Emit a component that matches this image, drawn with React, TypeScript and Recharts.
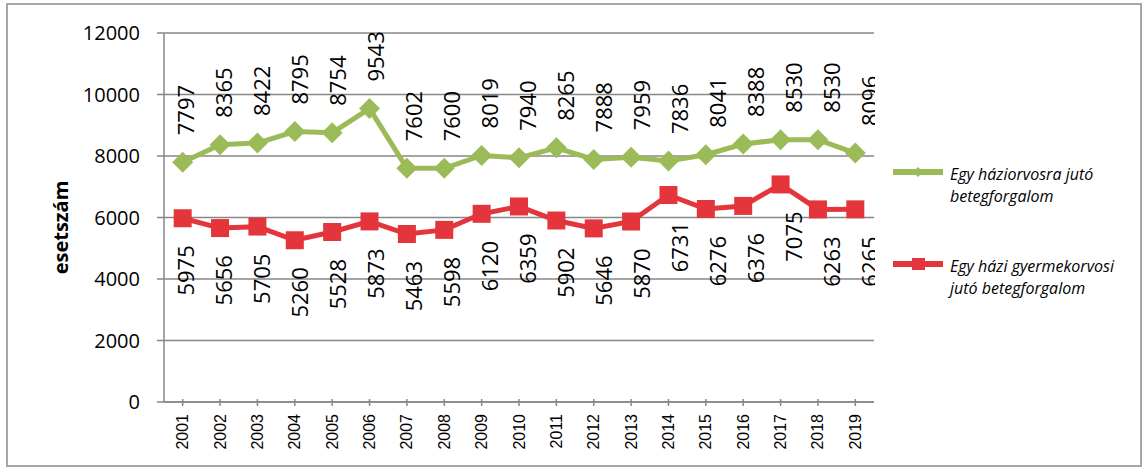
import React from 'react';
import { LineChart, Line, XAxis, YAxis, CartesianGrid, Legend, LabelList } from 'recharts';

const years = ['2001', '2002', '2003', '2004', '2005', '2006', '2007', '2008', '2009', '2010',
  '2011', '2012', '2013', '2014', '2015', '2016', '2017', '2018', '2019'];
const haziorvos = [7797, 8365, 8422, 8795, 8754, 9543, 7602, 7600, 8019, 7940,
  8265, 7888, 7959, 7836, 8041, 8388, 8530, 8530, 8096];
const gyermekorvos = [5975, 5656, 5705, 5260, 5528, 5873, 5463, 5598, 6120, 6359,
  5902, 5646, 5870, 6731, 6276, 6376, 7075, 6263, 6265];
const yTicks = [0, 2000, 4000, 6000, 8000, 10000, 12000];
const legendLines = [
  ['Egy háziorvosra jutó', 'betegforgalom'],
  ['Egy házi gyermekorvosi', 'jutó betegforgalom'],
];
const yTitle = 'esetszám';

const GREEN = '#9bbb59';
const RED = '#e3353b';
const GRID = '#878787';
const W = 1145;
const H = 468;
const M = { top: 33, right: 271, bottom: 0, left: 0 };
const Y_AXIS_W = 164;
// half a category slot on each side, so points sit in the middle of their year
const HALF_SLOT = (W - M.right - Y_AXIS_W) / years.length / 2;

const data = years.map((year, i) => ({ year, hazi: haziorvos[i], gyermek: gyermekorvos[i] }));

const Diamond = (props: any) => {
  const { cx, cy, index } = props;
  const r = 10.5;
  return <path key={`g-${index}`} d={`M${cx},${cy - r}L${cx + r},${cy}L${cx},${cy + r}L${cx - r},${cy}Z`} fill={GREEN} />;
};

const Square = (props: any) => {
  const { cx, cy, index } = props;
  const s = 9;
  return <rect key={`r-${index}`} x={cx - s} y={cy - s} width={s * 2} height={s * 2} fill={RED} />;
};

// rotated value labels, drifting slightly right along the axis like the original export
const valueLabel = (above: boolean) => (props: any) => {
  const { x, y, value, index } = props;
  const shift = 2 + (index ?? 0) * 0.65;
  const ty = above ? y - 27 : y + 27;
  return (
    <g clipPath="url(#plotClip)">
      <text
        transform={`translate(${x + shift},${ty}) rotate(-90)`}
        textAnchor={above ? 'start' : 'end'}
        dominantBaseline="central"
        fontSize={22}
        fontFamily="Open Sans"
        fill="#000"
      >
        {value}
      </text>
    </g>
  );
};

const YearTick = (props: any) => {
  const { x, y, payload } = props;
  return (
    <g>
      <line x1={x} x2={x} y1={y - 3} y2={y + 4} stroke={GRID} strokeWidth={1.5} />
      <text
        transform={`translate(${x},${y + 12}) rotate(-90)`}
        textAnchor="end"
        dominantBaseline="central"
        fontSize={16}
        fontFamily="Liberation Sans"
        fill="#000"
      >
        {payload.value}
      </text>
    </g>
  );
};

const renderLegend = () => {
  const items = [
    { color: GREEN, lines: legendLines[0], top: 13, marker: 'diamond' },
    { color: RED, lines: legendLines[1], top: 105, marker: 'square' },
  ];
  return (
    <div style={{ position: 'relative', width: 250, height: 160 }}>
      {items.map((it) => (
        <div key={it.color} style={{ position: 'absolute', left: 0, top: it.top }}>
          <svg width={52} height={22} style={{ position: 'absolute', left: 0, top: 0 }}>
            <line x1={0} x2={50} y1={9} y2={9} stroke={it.color} strokeWidth={6} />
            {it.marker === 'diamond' ? (
              <path d="M25,4L30,9L25,14L20,9Z" fill={it.color} />
            ) : (
              <rect x={19} y={3} width={13} height={12} fill={it.color} />
            )}
          </svg>
          <div
            style={{
              position: 'absolute',
              left: 57,
              top: 0,
              width: 200,
              fontFamily: 'Open Sans',
              fontStyle: 'italic',
              fontSize: 16,
              lineHeight: '22px',
              color: '#000',
              whiteSpace: 'nowrap',
            }}
          >
            {it.lines.map((l) => (
              <div key={l}>{l}</div>
            ))}
          </div>
        </div>
      ))}
    </div>
  );
};

export default function App() {
  return (
    <div style={{ position: 'absolute', left: 0, top: 0, width: W, height: H, background: '#fff' }}>
      <div
        style={{
          position: 'absolute',
          left: 6,
          top: 3,
          width: 1132,
          height: 460,
          border: '2px solid #a6a6a6',
        }}
      />
      <LineChart width={W} height={H} data={data} margin={M}>
        <defs>
          <clipPath id="plotClip">
            <rect x={0} y={0} width={W - M.right + 1} height={H} />
          </clipPath>
        </defs>
        <CartesianGrid vertical={false} stroke={GRID} strokeWidth={1.5} />
        <XAxis
          dataKey="year"
          interval={0}
          height={66}
          padding={{ left: HALF_SLOT, right: HALF_SLOT }}
          tickLine={false}
          tickSize={0}
          tickMargin={0}
          axisLine={{ stroke: GRID, strokeWidth: 1.5 }}
          tick={<YearTick />}
        />
        <YAxis
          width={Y_AXIS_W}
          domain={[0, 12000]}
          ticks={yTicks}
          interval={0}
          tickSize={7}
          tickMargin={17}
          axisLine={{ stroke: GRID, strokeWidth: 1.5 }}
          tickLine={{ stroke: GRID, strokeWidth: 1.5 }}
          tick={{ fontSize: 20, fontFamily: 'Open Sans', fill: '#000' }}
          label={{
            content: (p: any) => {
              const vb = p.viewBox || { x: 0, y: M.top, height: 369 };
              const cx = vb.x + 60;
              const cy = vb.y + vb.height / 2 + 10;
              return (
                <text
                  transform={`translate(${cx},${cy}) rotate(-90)`}
                  textAnchor="middle"
                  dominantBaseline="central"
                  fontSize={20}
                  fontWeight="bold"
                  fontFamily="Open Sans"
                  fill="#000"
                >
                  {yTitle}
                </text>
              );
            },
          }}
        />
        <Legend
          layout="vertical"
          align="center"
          verticalAlign="middle"
          content={renderLegend}
          wrapperStyle={{ left: 893, top: 150, width: 250 }}
        />
        <Line
          name={legendLines[0].join(' ')}
          dataKey="hazi"
          stroke={GREEN}
          strokeWidth={5}
          dot={Diamond}
          activeDot={false}
          isAnimationActive={false}
        >
          <LabelList dataKey="hazi" content={valueLabel(true)} />
        </Line>
        <Line
          name={legendLines[1].join(' ')}
          dataKey="gyermek"
          stroke={RED}
          strokeWidth={5}
          dot={Square}
          activeDot={false}
          isAnimationActive={false}
        >
          <LabelList dataKey="gyermek" content={valueLabel(false)} />
        </Line>
      </LineChart>
    </div>
  );
}
